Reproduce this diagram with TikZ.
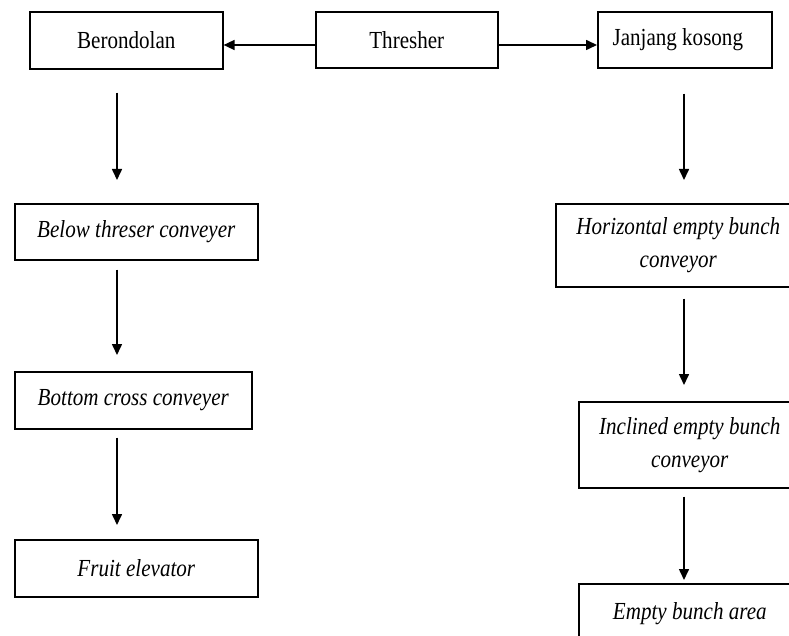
\documentclass[tikz,border=0pt]{standalone}
\usepackage{fontspec}
\setmainfont{Liberation Serif}[FakeStretch=0.86]
\usetikzlibrary{arrows.meta}

\tikzset{
  flowbox/.style={draw, line width=1.6pt, anchor=north west, inner sep=0pt,
    align=center, font=\fontsize{24.5}{33}\selectfont},
  itbox/.style={flowbox, font=\fontsize{24.5}{33}\selectfont\itshape},
  flowarrow/.style={line width=1.6pt, -{Triangle[length=11pt,width=10pt]}}
}

\begin{document}
\begin{tikzpicture}[x=1pt, y=1pt]
  \useasboundingbox (0,0) rectangle (789,-636);
  \clip (0,0) rectangle (789,-636);
  \fill[white] (0,0) rectangle (789,-636);

  % top row
  \node[flowbox, minimum width=193, minimum height=57] (ber) at (29,-11) {Berondolan};
  \node[flowbox, minimum width=182, minimum height=56] (thr) at (315,-11) {Thresher};
  \node[flowbox, minimum width=174, minimum height=56] (jan) at (597,-11) {Janjang kosong\hspace*{14pt}};

  % left column
  \node[itbox, minimum width=243, minimum height=56] (below) at (14,-203) {Below threser conveyer};
  \node[itbox, minimum width=237, minimum height=57] (cross) at (14,-371) {Bottom cross conveyer};
  \node[itbox, minimum width=243, minimum height=57] (fruit) at (14,-539) {Fruit elevator};

  % right column
  \node[itbox, minimum width=245, minimum height=83] (horiz) at (555,-203) {Horizontal empty bunch\\conveyor};
  \node[itbox, minimum width=222, minimum height=86] (incl) at (578,-401) {Inclined empty bunch\\conveyor};
  \node[itbox, minimum width=222, minimum height=60] (area) at (578,-583) {Empty bunch area};

  % guide lines for the connectors
  \coordinate (rowA) at (0,-45);
  \coordinate (colL) at (117,0);
  \coordinate (colR) at (684,0);

  % horizontal connectors
  \draw[flowarrow] (thr.west |- rowA) -- (ber.east |- rowA);
  \draw[flowarrow] (thr.east |- rowA) -- (jan.west |- rowA);

  % left column connectors
  \draw[flowarrow, shorten <=23pt, shorten >=23pt] (ber.south -| colL) -- (below.north -| colL);
  \draw[flowarrow, shorten <=9pt, shorten >=16pt] (below.south -| colL) -- (cross.north -| colL);
  \draw[flowarrow, shorten <=8pt, shorten >=14pt] (cross.south -| colL) -- (fruit.north -| colL);

  % right column connectors
  \draw[flowarrow, shorten <=25pt, shorten >=23pt] (jan.south -| colR) -- (horiz.north -| colR);
  \draw[flowarrow, shorten <=11pt, shorten >=16pt] (horiz.south -| colR) -- (incl.north -| colR);
  \draw[flowarrow, shorten <=8pt, shorten >=3pt] (incl.south -| colR) -- (area.north -| colR);
\end{tikzpicture}
\end{document}
